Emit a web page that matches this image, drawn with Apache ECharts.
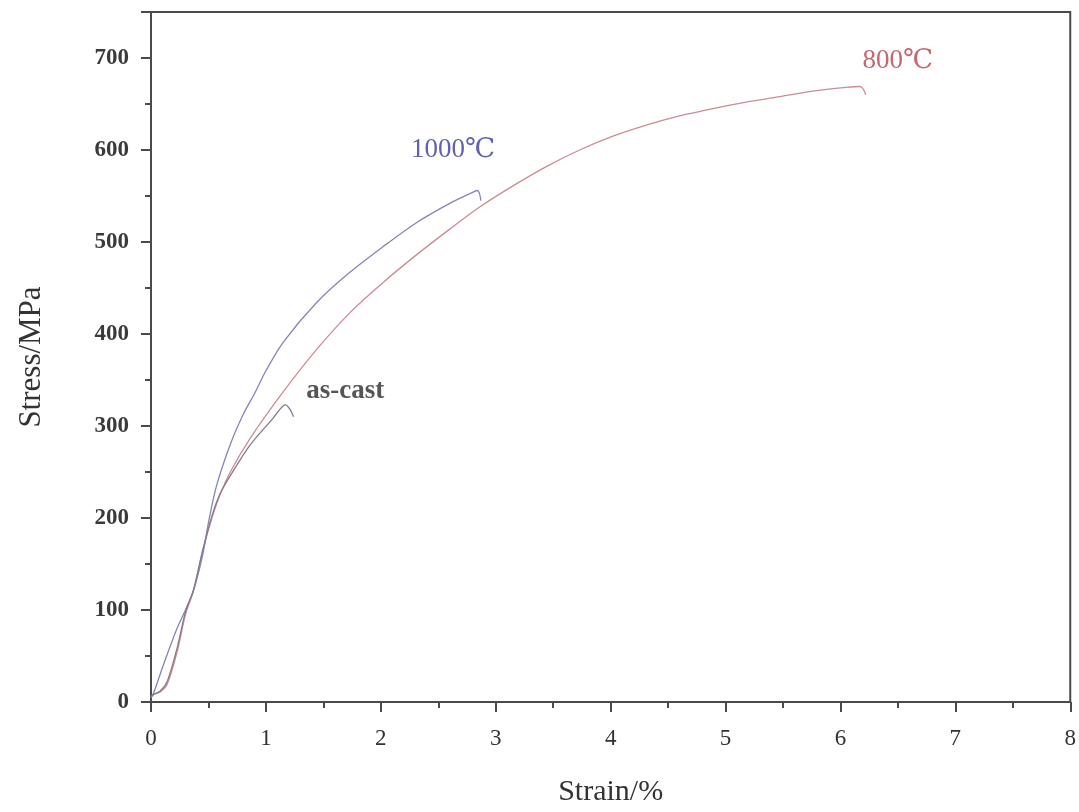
<!DOCTYPE html>
<html>
<head>
<meta charset="utf-8">
<script src="https://cdn.jsdelivr.net/npm/echarts@6/dist/echarts.min.js"></script>
<style>html,body{margin:0;padding:0;background:#fff}#c{width:1079px;height:812px}</style>
</head>
<body>
<div id="c"></div>
<script>
// Strain (%) and Stress (MPa)
const strain800 = [0, 0.02, 0.08, 0.14, 0.23, 0.3, 0.37, 0.45, 0.53, 0.6, 0.69, 0.86, 1.15, 1.44, 1.73, 2.02, 2.31, 2.6, 2.86, 3.15, 3.44, 3.73, 4.02, 4.31, 4.6, 4.89, 5.18, 5.47, 5.76, 6.05, 6.17, 6.2, 6.22];
const stress800 = [5, 8, 11, 19, 56, 95, 121, 164, 200, 225, 250, 286, 337, 383, 423, 456, 486, 514, 538, 561, 582, 600, 615, 627, 637, 645, 652, 658, 664, 668, 669, 666, 660];

const strain1000 = [0, 0.02, 0.11, 0.22, 0.3, 0.37, 0.45, 0.5, 0.57, 0.69, 0.8, 0.9, 1.0, 1.15, 1.44, 1.73, 2.02, 2.31, 2.6, 2.8, 2.84, 2.86, 2.87];
const stress1000 = [5, 9, 41, 78, 100, 121, 160, 195, 235, 280, 312, 335, 360, 391, 434, 467, 495, 521, 542, 554, 556, 552, 545];

const strainCast = [0, 0.02, 0.08, 0.14, 0.23, 0.3, 0.37, 0.45, 0.53, 0.6, 0.69, 0.86, 1.06, 1.17, 1.21, 1.24];
const stressCast = [5, 8, 12, 22, 60, 98, 122, 165, 202, 226, 246, 279, 308, 323, 318, 310];

const labelNames = ['1000℃', '800℃', 'as-cast'];
const labelX = [2.63, 6.5, 1.69];
const labelY = [600, 697, 338];
const labelColors = ['#3a3a9e', '#b8404a', '#2a2a2a'];
const labelWeights = ['normal', 'normal', 'bold'];

const xTicks = [0, 1, 2, 3, 4, 5, 6, 7, 8];
const yTicks = [0, 100, 200, 300, 400, 500, 600, 700];

const zip = (a, b) => a.map((v, i) => [v, b[i]]);
const font = '"Liberation Serif", "DejaVu Serif", serif';
const axisCol = '#4a4a4a';

const chart = echarts.init(document.getElementById('c'));
chart.setOption({
  animation: false,
  backgroundColor: '#fff',
  grid: { left: 151, right: 8, top: 12, bottom: 107, show: true, borderColor: axisCol, borderWidth: 2 },
  xAxis: {
    type: 'value', min: 0, max: 8, interval: 1,
    name: 'Strain/%', nameLocation: 'middle', nameGap: 75,
    nameTextStyle: { fontFamily: font, fontSize: 30, color: '#333' },
    axisLine: { show: true, onZero: false, lineStyle: { color: axisCol, width: 2 } },
    axisTick: { show: true, inside: false, length: 10, lineStyle: { color: axisCol, width: 2 } },
    minorTick: { show: true, splitNumber: 2, length: 6, lineStyle: { color: axisCol, width: 2 } },
    splitLine: { show: false },
    axisLabel: { fontFamily: font, fontSize: 23, color: '#333', margin: 25,
      formatter: v => xTicks.includes(v) ? String(v) : '' }
  },
  yAxis: {
    type: 'value', min: 0, max: 750, interval: 100,
    name: 'Stress/MPa', nameLocation: 'middle', nameGap: 104,
    nameTextStyle: { fontFamily: font, fontSize: 31, color: '#333' },
    axisLine: { show: true, onZero: false, lineStyle: { color: axisCol, width: 2 } },
    axisTick: { show: true, inside: false, length: 10, lineStyle: { color: axisCol, width: 2 } },
    minorTick: { show: true, splitNumber: 2, length: 6, lineStyle: { color: axisCol, width: 2 } },
    splitLine: { show: false },
    axisLabel: { fontFamily: font, fontSize: 23, fontWeight: 'bold', color: '#3a3a3a', margin: 22, showMaxLabel: false,
      formatter: v => yTicks.includes(v) ? String(v) : '' }
  },
  series: [
    { type: 'line', data: zip(strain800, stress800), smooth: 0.3, showSymbol: false,
      lineStyle: { color: '#cc8c94', width: 1.3 } },
    { type: 'line', data: zip(strain1000, stress1000), smooth: 0.3, showSymbol: false,
      lineStyle: { color: '#8585b5', width: 1.3 } },
    { type: 'line', data: zip(strainCast, stressCast), smooth: 0.3, showSymbol: false,
      lineStyle: { color: '#85798f', width: 1.3 } },
    { type: 'scatter', symbolSize: 0, silent: true,
      data: labelNames.map((n, i) => ({
        value: [labelX[i], labelY[i]],
        label: { show: true, position: 'inside', formatter: n, fontFamily: font, fontSize: 27,
          fontWeight: labelWeights[i], color: labelColors[i] }
      })) }
  ]
});
</script>
</body>
</html>
